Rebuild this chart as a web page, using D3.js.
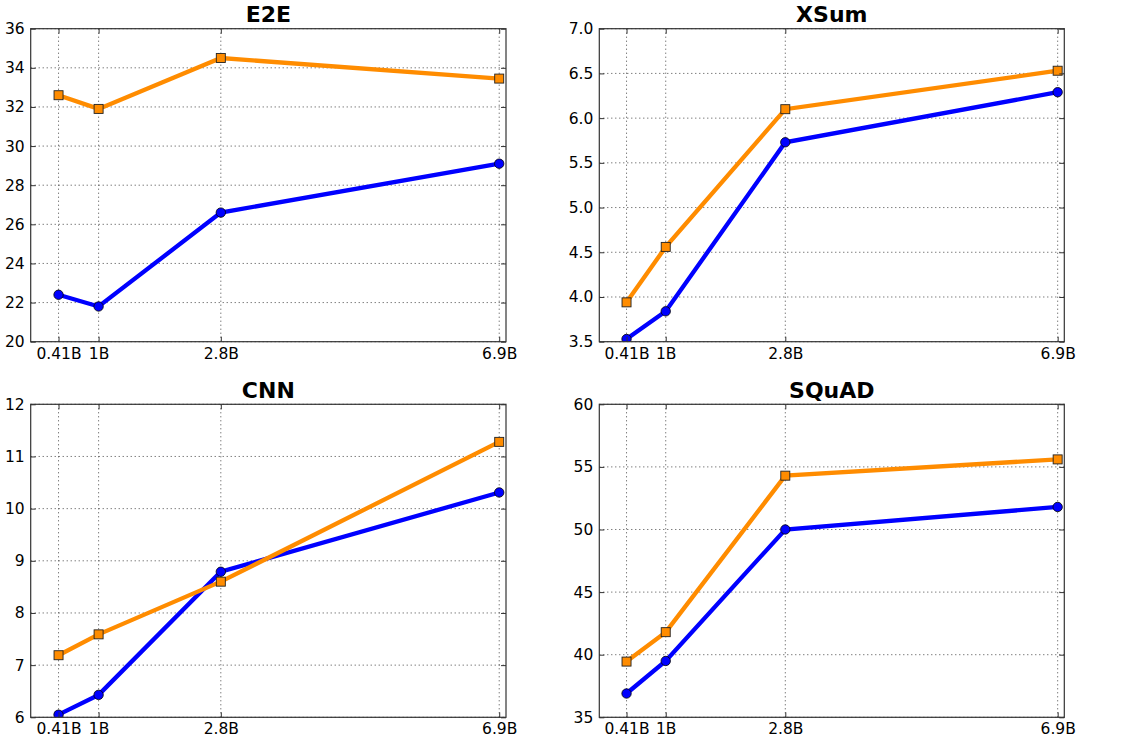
<!DOCTYPE html>
<html lang="en">
<head>
<meta charset="utf-8">
<title>Scores by model size</title>
<script src="https://d3js.org/d3.v7.min.js"></script>
<style>
  body { margin: 0; background: #fff; }
  text { font-family: "DejaVu Sans", sans-serif; }
</style>
</head>
<body>
<script>
// model sizes (billions) and their tick labels
var sizes = [0.41, 1, 2.8, 6.9];
var sizeLabels = ["0.41B", "1B", "2.8B", "6.9B"];

// per-task values: blue (circles) and orange (squares)
var e2eBlue   = [22.4, 21.8, 26.6, 29.1];
var e2eOrange = [32.6, 31.9, 34.5, 33.45];
var xsumBlue   = [3.53, 3.84, 5.73, 6.29];
var xsumOrange = [3.94, 4.56, 6.10, 6.53];
var cnnBlue   = [6.05, 6.43, 8.79, 10.31];
var cnnOrange = [7.19, 7.59, 8.60, 11.28];
var squadBlue   = [36.9, 39.5, 50.0, 51.8];
var squadOrange = [39.45, 41.8, 54.3, 55.6];

// y tick values
var e2eTicks = [20, 22, 24, 26, 28, 30, 32, 34, 36];
var xsumTicks = [3.5, 4.0, 4.5, 5.0, 5.5, 6.0, 6.5, 7.0];
var cnnTicks = [6, 7, 8, 9, 10, 11, 12];
var squadTicks = [35, 40, 45, 50, 55, 60];

var W = 1132, H = 742;
var colLeft = [30.7, 599.3], colWidth = [475.3, 465];
var rowTop = [28.7, 404.3], plotH = 313;

var panels = [
  {title: "E2E",   blue: e2eBlue,   orange: e2eOrange,   ticks: e2eTicks,   fmt: d3.format("d"),   col: 0, row: 0},
  {title: "XSum",  blue: xsumBlue,  orange: xsumOrange,  ticks: xsumTicks,  fmt: d3.format(".1f"), col: 1, row: 0},
  {title: "CNN",   blue: cnnBlue,   orange: cnnOrange,   ticks: cnnTicks,   fmt: d3.format("d"),   col: 0, row: 1},
  {title: "SQuAD", blue: squadBlue, orange: squadOrange, ticks: squadTicks, fmt: d3.format("d"),   col: 1, row: 1}
];

var svg = d3.select("body").append("svg")
  .attr("width", W).attr("height", H);
svg.append("rect").attr("width", W).attr("height", H).attr("fill", "#fff");

panels.forEach(function(p, i) {
  var w = colWidth[p.col], h = plotH;
  var g = svg.append("g")
    .attr("transform", "translate(" + colLeft[p.col] + "," + rowTop[p.row] + ")");

  var x = d3.scaleLinear().domain([0, 7]).range([0, w]);
  var y = d3.scaleLinear().domain(d3.extent(p.ticks)).range([h, 0]);

  // clip
  g.append("clipPath").attr("id", "clip" + i)
    .append("rect").attr("width", w).attr("height", h);

  // grid
  var grid = g.append("g").attr("stroke", "#333").attr("stroke-width", 0.9)
    .attr("stroke-dasharray", "1,3");
  grid.selectAll(".gx").data(sizes).enter().append("line")
    .attr("x1", function(d) { return x(d); }).attr("x2", function(d) { return x(d); })
    .attr("y1", 0).attr("y2", h);
  grid.selectAll(".gy").data(p.ticks).enter().append("line")
    .attr("y1", function(d) { return y(d); }).attr("y2", function(d) { return y(d); })
    .attr("x1", 0).attr("x2", w);

  // series
  var line = d3.line()
    .x(function(d, j) { return x(sizes[j]); })
    .y(function(d) { return y(d); });
  var plot = g.append("g").attr("clip-path", "url(#clip" + i + ")");

  plot.append("path").datum(p.blue)
    .attr("d", line).attr("fill", "none")
    .attr("stroke", "#0000ff").attr("stroke-width", 4.3);
  plot.selectAll(".dot").data(p.blue).enter().append("circle")
    .attr("cx", function(d, j) { return x(sizes[j]); })
    .attr("cy", function(d) { return y(d); })
    .attr("r", 4.7).attr("fill", "#0000ff")
    .attr("stroke", "#000").attr("stroke-width", 0.8);

  plot.append("path").datum(p.orange)
    .attr("d", line).attr("fill", "none")
    .attr("stroke", "#ff8c00").attr("stroke-width", 4.3);
  plot.selectAll(".sq").data(p.orange).enter().append("rect")
    .attr("x", function(d, j) { return x(sizes[j]) - 4.5; })
    .attr("y", function(d) { return y(d) - 4.5; })
    .attr("width", 9).attr("height", 9).attr("fill", "#ff8c00")
    .attr("stroke", "#222").attr("stroke-width", 0.9);

  // axes, ticks pointing inward
  var fmtX = function(d) { return sizeLabels[sizes.indexOf(d)]; };
  var axes = [
    g.append("g").attr("transform", "translate(0," + h + ")")
      .call(d3.axisBottom(x).tickValues(sizes).tickFormat(fmtX).tickSize(-5).tickPadding(6)),
    g.append("g")
      .call(d3.axisTop(x).tickValues(sizes).tickFormat("").tickSize(-5)),
    g.append("g")
      .call(d3.axisLeft(y).tickValues(p.ticks).tickFormat(p.fmt).tickSize(-5).tickPadding(6)),
    g.append("g").attr("transform", "translate(" + w + ",0)")
      .call(d3.axisRight(y).tickValues(p.ticks).tickFormat("").tickSize(-5))
  ];
  axes.forEach(function(a) {
    a.select(".domain").remove();
    a.selectAll(".tick line").attr("stroke", "#333").attr("stroke-width", 1);
    a.selectAll("text").attr("font-size", 15.5).attr("fill", "#000")
      .attr("font-family", "DejaVu Sans");
  });

  // frame
  g.append("rect").attr("width", w).attr("height", h)
    .attr("fill", "none").attr("stroke", "#333").attr("stroke-width", 1.2);

  // title
  g.append("text").attr("x", w / 2).attr("y", -6.5)
    .attr("text-anchor", "middle").attr("font-size", 22)
    .attr("font-weight", "bold").text(p.title);
});
</script>
</body>
</html>
